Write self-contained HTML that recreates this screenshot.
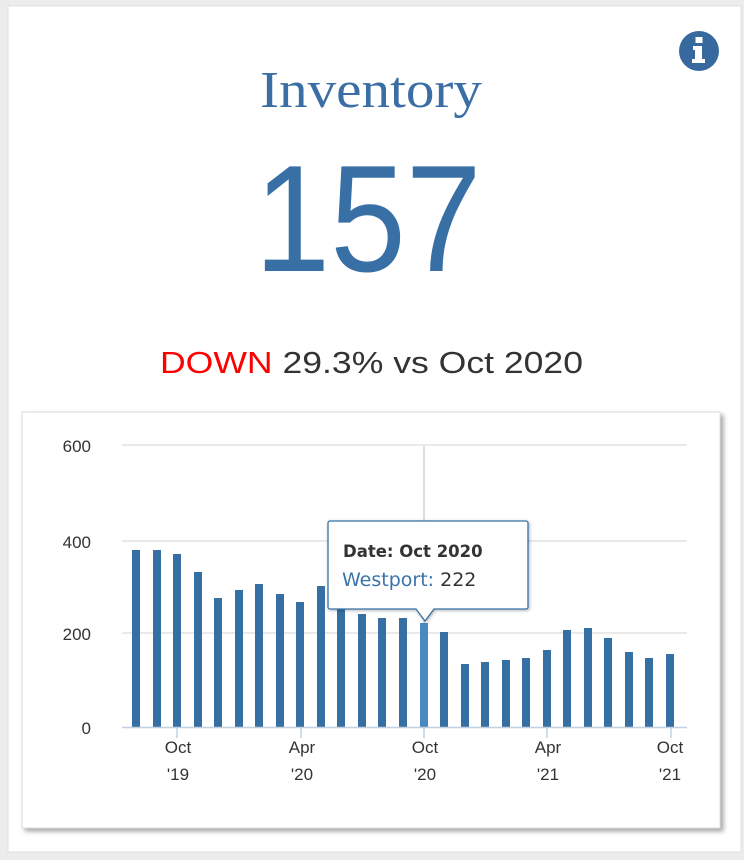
<!DOCTYPE html>
<html><head><style>
html,body{margin:0;padding:0;background:#ececec;}
svg{display:block;}
</style></head><body>
<svg width="744" height="860" xmlns="http://www.w3.org/2000/svg" font-family="Liberation Sans, sans-serif">
<defs>
<filter id="sh" x="-5%" y="-5%" width="115%" height="115%"><feDropShadow dx="3" dy="3" stdDeviation="2.5" flood-color="#000" flood-opacity="0.35"/></filter>
<filter id="sh2" x="-10%" y="-10%" width="130%" height="130%"><feDropShadow dx="1" dy="1" stdDeviation="1.5" flood-color="#000" flood-opacity="0.3"/></filter>
</defs>
<rect x="0" y="0" width="744" height="860" fill="#ececec"/>
<rect x="8" y="6" width="733" height="846" fill="#fff" stroke="#e0e0e0"/>
<circle cx="699" cy="51" r="20" fill="#37699e"/>
<rect x="695.5" y="37" width="7" height="6" fill="#fff"/>
<path d="M693 46h9v13h3v4h-13v-4h3v-9h-2z" fill="#fff"/>
<text x="371" y="107" text-anchor="middle" font-family="Liberation Serif, serif" font-size="52" fill="#3a6ea5" textLength="222" lengthAdjust="spacingAndGlyphs">Inventory</text>
<text x="368" y="271" text-anchor="middle" font-size="152" fill="#3870a5" textLength="227" lengthAdjust="spacingAndGlyphs">157</text>
<text x="160" y="373" font-size="31" fill="#333" textLength="423" lengthAdjust="spacingAndGlyphs"><tspan fill="#f00">DOWN</tspan> 29.3% vs Oct 2020</text>
<rect x="22" y="412" width="698" height="416" fill="#fff" stroke="#ddd" filter="url(#sh)"/>
<g stroke="#e2e2e2" stroke-width="1.5">
<line x1="122" y1="445" x2="687" y2="445"/>
<line x1="122" y1="541" x2="687" y2="541"/>
<line x1="122" y1="633" x2="687" y2="633"/>
</g>
<line x1="424" y1="446" x2="424" y2="727" stroke="#c8c8c8" stroke-width="1.2"/>
<g font-size="17" fill="#333" text-anchor="end">
<text x="91" y="452">600</text>
<text x="91" y="548">400</text>
<text x="91" y="640">200</text>
<text x="91" y="734">0</text>
</g>
<g id="bars" fill="#3670a3">
<rect x="132" y="550" width="8" height="177"/>
<rect x="153" y="550" width="8" height="177"/>
<rect x="173" y="554" width="8" height="173"/>
<rect x="194" y="572" width="8" height="155"/>
<rect x="214" y="598" width="8" height="129"/>
<rect x="235" y="590" width="8" height="137"/>
<rect x="255" y="584" width="8" height="143"/>
<rect x="276" y="594" width="8" height="133"/>
<rect x="296" y="602" width="8" height="125"/>
<rect x="317" y="586" width="8" height="141"/>
<rect x="337" y="607" width="8" height="120"/>
<rect x="358" y="614" width="8" height="113"/>
<rect x="378" y="618" width="8" height="109"/>
<rect x="399" y="618" width="8" height="109"/>
<rect x="420" y="623" width="8" height="104" fill="#4a89c0"/>
<rect x="440" y="632" width="8" height="95"/>
<rect x="461" y="664" width="8" height="63"/>
<rect x="481" y="662" width="8" height="65"/>
<rect x="502" y="660" width="8" height="67"/>
<rect x="522" y="658" width="8" height="69"/>
<rect x="543" y="650" width="8" height="77"/>
<rect x="563" y="630" width="8" height="97"/>
<rect x="584" y="628" width="8" height="99"/>
<rect x="604" y="638" width="8" height="89"/>
<rect x="625" y="652" width="8" height="75"/>
<rect x="645" y="658" width="8" height="69"/>
<rect x="666" y="654" width="8" height="73"/>
</g>
<line x1="122" y1="727.5" x2="687" y2="727.5" stroke="#c0d0e0" stroke-width="1.5"/>
<g stroke="#c0d0e0" stroke-width="1.5">
<line x1="177" y1="728" x2="177" y2="738"/>
<line x1="301" y1="728" x2="301" y2="738"/>
<line x1="424" y1="728" x2="424" y2="738"/>
<line x1="547" y1="728" x2="547" y2="738"/>
<line x1="671" y1="728" x2="671" y2="738"/>
</g>
<g font-size="17" fill="#333" text-anchor="middle">
<text x="178" y="753">Oct</text><text x="178" y="780">'19</text>
<text x="302" y="753">Apr</text><text x="302" y="780">'20</text>
<text x="425" y="753">Oct</text><text x="425" y="780">'20</text>
<text x="548" y="753">Apr</text><text x="548" y="780">'21</text>
<text x="670" y="753">Oct</text><text x="670" y="780">'21</text>
</g>
<path d="M330 521h196a2 2 0 0 1 2 2v84a2 2 0 0 1-2 2h-92l-9 12-9-12h-86a2 2 0 0 1-2-2v-84a2 2 0 0 1 2-2z" fill="#fff" fill-opacity="0.97" stroke="#3670a3" stroke-width="1.3" filter="url(#sh2)"/>
<text x="343" y="557" font-family="DejaVu Sans, sans-serif" font-size="16.5" font-weight="bold" fill="#333">Date: Oct 2020</text>
<text x="342" y="586" font-family="DejaVu Sans, sans-serif" font-size="19" fill="#333"><tspan fill="#3a73aa">Westport:</tspan> 222</text>
</svg>
</body></html>
